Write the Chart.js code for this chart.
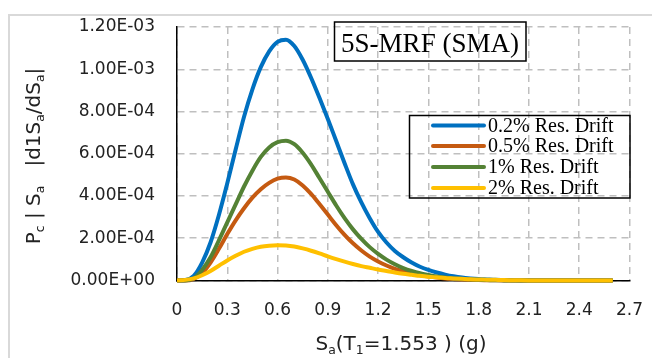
<!DOCTYPE html>
<html>
<head>
<meta charset="utf-8">
<title>5S-MRF (SMA)</title>
<script src="https://cdn.jsdelivr.net/npm/chart.js@4/dist/chart.umd.min.js"></script>
<style>
  html, body { margin: 0; padding: 0; background: #fff; }
  #wrap { width: 652px; height: 358px; }
</style>
</head>
<body>
<div id="wrap"><canvas id="chart" width="652" height="358"></canvas></div>
<script>
// Sa(T1) values (g) where the curves were read
const saValues = [
  0, 0.05, 0.1, 0.15, 0.2, 0.25, 0.3, 0.35, 0.4, 0.45,
  0.5, 0.55, 0.6, 0.65, 0.7, 0.75, 0.8, 0.85, 0.9, 0.95,
  1.0, 1.05, 1.1, 1.15, 1.2, 1.25, 1.3, 1.35, 1.4, 1.45,
  1.5, 1.55, 1.6, 1.65, 1.7, 1.75, 1.8, 1.85, 1.9, 1.95,
  2.0, 2.05, 2.1, 2.15, 2.2, 2.25, 2.3, 2.35, 2.4, 2.45,
  2.5, 2.55, 2.6
];

// curve values, in units of 1e-4
const UNIT = 1e-4;
const drift02 = [
  0, 0.02, 0.22, 0.85, 1.8, 3.1, 4.6, 6.2, 7.75, 9.05,
  10.1, 10.85, 11.3, 11.4, 11.1, 10.45, 9.6, 8.65, 7.65, 6.6,
  5.55, 4.55, 3.7, 2.95, 2.3, 1.8, 1.4, 1.1, 0.85, 0.65,
  0.5, 0.38, 0.28, 0.2, 0.14, 0.1, 0.07, 0.05, 0.03, 0.02,
  0.01, 0, 0, 0, 0, 0, 0, 0, 0, 0,
  0, 0, 0
];
const drift05 = [
  0, 0, 0.08, 0.35, 0.85, 1.5, 2.2, 2.85, 3.42, 3.92,
  4.32, 4.62, 4.82, 4.88, 4.78, 4.5, 4.1, 3.62, 3.12, 2.62,
  2.16, 1.76, 1.42, 1.13, 0.9, 0.71, 0.55, 0.43, 0.33, 0.25,
  0.19, 0.14, 0.1, 0.07, 0.05, 0.035, 0.02, 0.015, 0.01, 0.005,
  0, 0, 0, 0, 0, 0, 0, 0, 0, 0,
  0, 0, 0
];
const drift1 = [
  0, 0, 0.1, 0.5, 1.1, 1.9, 2.75, 3.6, 4.45, 5.2,
  5.85, 6.3, 6.55, 6.62, 6.45, 6.05, 5.5, 4.85, 4.2, 3.55,
  2.95, 2.42, 1.97, 1.58, 1.26, 0.99, 0.77, 0.59, 0.45, 0.34,
  0.26, 0.19, 0.14, 0.1, 0.07, 0.05, 0.03, 0.02, 0.01, 0.005,
  0, 0, 0, 0, 0, 0, 0, 0, 0, 0,
  0, 0, 0
];
const drift2 = [
  0, 0.03, 0.1, 0.25, 0.45, 0.7, 0.95, 1.17, 1.36, 1.5,
  1.6, 1.65, 1.67, 1.66, 1.61, 1.52, 1.41, 1.28, 1.14, 1.01,
  0.89, 0.78, 0.68, 0.6, 0.52, 0.45, 0.38, 0.32, 0.27, 0.22,
  0.18, 0.15, 0.12, 0.1, 0.08, 0.06, 0.05, 0.04, 0.03, 0.02,
  0.015, 0.01, 0.005, 0, 0, 0, 0, 0, 0, 0,
  0, 0, 0
];

const seriesNames = ['0.2% Res. Drift', '0.5% Res. Drift', '1% Res. Drift', '2% Res. Drift'];
const seriesColors = ['#0070C0', '#C55A11', '#548235', '#FFC000'];
const seriesValues = [drift02, drift05, drift1, drift2];

const xTicks = [0, 0.3, 0.6, 0.9, 1.2, 1.5, 1.8, 2.1, 2.4, 2.7];
const yTicks = [0, 2e-4, 4e-4, 6e-4, 8e-4, 10e-4, 12e-4];
const chartTitle = '5S-MRF (SMA)';

// 1.20E-03 style labels
function sciLabel(v) {
  if (Math.abs(v) < 1e-12) return '0.00E+00';
  const e = Math.floor(Math.log10(Math.abs(v)) + 1e-9);
  const m = v / Math.pow(10, e);
  return m.toFixed(2) + 'E' + (e < 0 ? '-' : '+') + String(Math.abs(e)).padStart(2, '0');
}

// draws a run of [text, isSub] pieces starting at x, y (baseline)
function drawRich(ctx, parts, x, y, size, family) {
  parts.forEach(([txt, sub]) => {
    ctx.font = (sub ? size * 0.62 : size) + 'px ' + family;
    ctx.fillText(txt, x, sub ? y + size * 0.22 : y);
    x += ctx.measureText(txt).width;
  });
}
function richWidth(ctx, parts, size, family) {
  let w = 0;
  parts.forEach(([txt, sub]) => {
    ctx.font = (sub ? size * 0.62 : size) + 'px ' + family;
    w += ctx.measureText(txt).width;
  });
  return w;
}

const decorations = {
  id: 'decorations',
  beforeDraw(chart) {
    const ctx = chart.ctx;
    ctx.save();
    ctx.strokeStyle = '#d9d9d9';
    ctx.lineWidth = 2;
    ctx.strokeRect(9, 15, 700, 400);
    ctx.restore();
  },
  afterDraw(chart) {
    const ctx = chart.ctx;
    const sans = '"DejaVu Sans", sans-serif';
    const serif = '"Liberation Serif", "Times New Roman", serif';
    ctx.save();
    ctx.fillStyle = '#222';
    ctx.textBaseline = 'alphabetic';
    ctx.textAlign = 'left';

    // x axis title
    const xParts = [['S', false], ['a', true], ['(T', false], ['1', true], ['=1.553 ) (g)', false]];
    const xw = richWidth(ctx, xParts, 20, sans);
    drawRich(ctx, xParts, 401 - xw / 2, 350, 20, sans);

    // y axis title (rotated)
    const yParts = [['P', false], ['c', true], [' | ', false], ['S', false], ['a', true],
      ['   |d1S', false], ['a', true], ['/dS', false], ['a', true], ['|', false]];
    const yw = richWidth(ctx, yParts, 20, sans);
    ctx.save();
    ctx.translate(40, 156);
    ctx.rotate(-Math.PI / 2);
    drawRich(ctx, yParts, -yw / 2, 0, 20, sans);
    ctx.restore();

    // title box
    ctx.strokeStyle = '#000';
    ctx.lineWidth = 1.5;
    ctx.strokeRect(334.5, 22, 191.5, 39);
    ctx.font = '27px ' + serif;
    ctx.fillStyle = '#000';
    ctx.textAlign = 'center';
    ctx.fillText(chartTitle, 430, 52);

    // legend box
    ctx.strokeRect(409.5, 115.5, 220.5, 82.5);
    const rowY = [125.5, 146, 167, 188];
    ctx.textAlign = 'left';
    ctx.textBaseline = 'middle';
    ctx.font = '20px ' + serif;
    chart.data.datasets.forEach((ds, i) => {
      ctx.strokeStyle = ds.borderColor;
      ctx.lineWidth = 4;
      ctx.lineCap = 'round';
      ctx.beginPath();
      ctx.moveTo(433, rowY[i]);
      ctx.lineTo(484, rowY[i]);
      ctx.stroke();
      ctx.fillStyle = '#000';
      ctx.fillText(ds.label, 488, rowY[i] + 1);
    });
    ctx.restore();
  }
};

const datasets = seriesValues.map((vals, i) => ({
  label: seriesNames[i],
  data: saValues.map((x, j) => ({ x: x, y: vals[j] * UNIT })),
  borderColor: seriesColors[i],
  backgroundColor: seriesColors[i],
  borderWidth: 4,
  pointRadius: 0,
  cubicInterpolationMode: 'monotone',
  fill: false,
  clip: 10,
  order: seriesValues.length - i
}));

const tickFont = { family: '"DejaVu Sans", sans-serif', size: 17 };

new Chart(document.getElementById('chart'), {
  type: 'line',
  data: { datasets: datasets },
  options: {
    responsive: false,
    devicePixelRatio: 1,
    animation: false,
    layout: { padding: { left: 0, top: 27, right: 22.5, bottom: 0 } },
    plugins: {
      legend: { display: false },
      tooltip: { enabled: false }
    },
    scales: {
      x: {
        type: 'linear',
        min: 0,
        max: 2.7,
        afterBuildTicks: s => { s.ticks = xTicks.map(v => ({ value: v })); },
        afterFit: s => { s.height = 77.5; s.paddingLeft = 0; s.paddingRight = 0; },
        ticks: {
          font: tickFont,
          color: '#222',
          padding: 20,
          maxRotation: 0,
          callback: v => String(Number(v.toFixed(1)))
        },
        grid: { color: '#bfbfbf', lineWidth: 1.5, drawTicks: false },
        border: { display: true, color: '#000', width: 1.5, dash: [7, 5] }
      },
      y: {
        min: 0,
        max: 1.2e-3,
        afterBuildTicks: s => { s.ticks = yTicks.map(v => ({ value: v })); },
        afterFit: s => { s.width = 177; s.paddingTop = 0; s.paddingBottom = 0; },
        ticks: {
          font: tickFont,
          color: '#222',
          padding: 22,
          callback: v => sciLabel(v)
        },
        grid: { color: '#bfbfbf', lineWidth: 1.5, drawTicks: false },
        border: { display: true, color: '#000', width: 1.5, dash: [7, 5] }
      }
    }
  },
  plugins: [decorations]
});
</script>
</body>
</html>
